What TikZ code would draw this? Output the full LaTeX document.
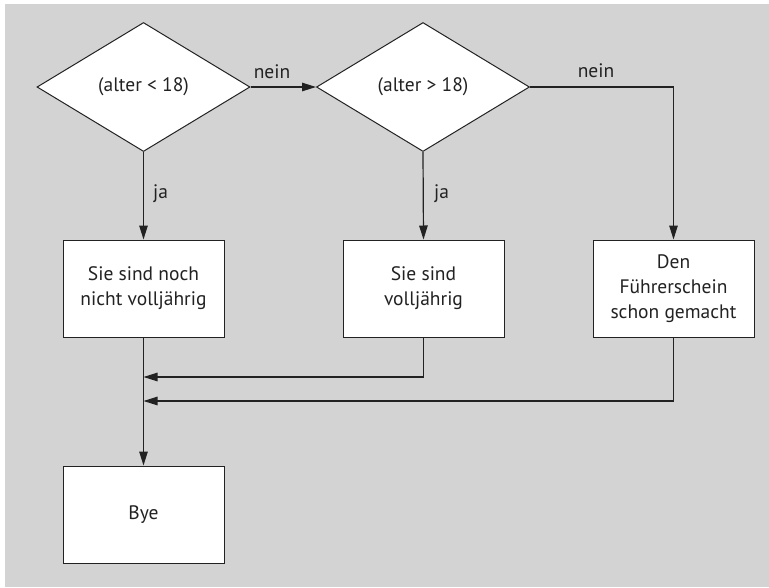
\documentclass[tikz,border=0pt]{standalone}
\usepackage{fontspec}
\setmainfont{PT Sans}
\usetikzlibrary{shapes.geometric,arrows.meta}
\definecolor{bggray}{HTML}{D3D3D3}
\definecolor{ink}{HTML}{222222}
\tikzset{
  decision/.style={diamond, draw=ink, fill=white, line width=1pt, inner sep=0pt,
    minimum width=213pt, minimum height=129pt, aspect=1.65},
  stepbox/.style={rectangle, draw=ink, fill=white, line width=1pt,
    minimum width=161pt, minimum height=97pt, align=center, inner sep=2pt},
  flow/.style={draw=ink, line width=1.2pt, -{Triangle[length=14pt,width=8.5pt]}},
  lbl/.style={inner sep=0pt, anchor=base}
}
\begin{document}
\begin{tikzpicture}[x=1pt,y=-1pt, font=\fontsize{19.5}{25}\selectfont, text=ink]
  \useasboundingbox (0,0) rectangle (769,587);
  \fill[bggray] (5,4) rectangle (769,587);

  % decisions
  \node[decision] (d1) at (143.5,87) {(alter < 18)};
  \node[decision] (d2) at (423,87) {(alter > 18)};

  % outcomes
  \node[stepbox] (b1) at (143.5,288.5) {Sie sind noch\\nicht volljährig};
  \node[stepbox] (b2) at (423.5,288.5) {Sie sind\\volljährig};
  \node[stepbox] (b3) at (673.5,288.5) {Den\\Führerschein\\schon gemacht};
  \node[stepbox] (bye) at (143.5,514.5) {Bye};

  % merge points on the trunk line
  \coordinate (m1) at (143.5,377);
  \coordinate (m2) at (143.5,401);

  % connectors
  \draw[flow] (d1.east) -- (d2.west);
  \draw[flow] (d1.south) -- (b1.north);
  \draw[flow] (d2.south) -- (b2.north);
  \draw[flow] (d2.east) -| (b3.north);
  \draw[flow] (b1.south) -- (bye.north);
  \draw[flow] (b2.south) |- (m1);
  \draw[flow] (b3.south) |- (m2);

  % branch labels
  \node[lbl] (n1) at (272,78) {nein};
  \node[lbl] (n2) at (596,77) {nein};
  \node[lbl, anchor=base west] (j1) at (153,198) {ja};
  \node[lbl, anchor=base west] (j2) at (434,198) {ja};
\end{tikzpicture}
\end{document}
